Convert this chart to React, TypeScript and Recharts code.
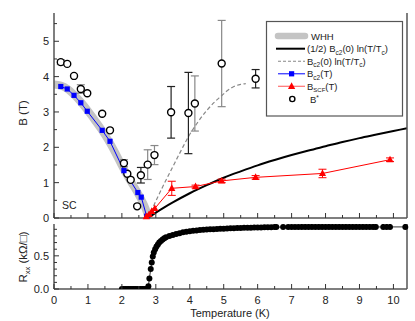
import React from 'react';
import { ComposedChart, Line, Scatter, XAxis, YAxis, ErrorBar } from 'recharts';

const FONT = '"Liberation Sans", Arial, Helvetica, sans-serif';

// ---------- data ----------
const xTicks = [0, 0.5, 1, 1.5, 2, 2.5, 3, 3.5, 4, 4.5, 5, 5.5, 6, 6.5, 7, 7.5, 8, 8.5, 9, 9.5, 10];
const bTicks = [0, 0.5, 1, 1.5, 2, 2.5, 3, 3.5, 4, 4.5, 5, 5.5];
const rTicks = [0, 0.1, 0.2, 0.3, 0.4, 0.5, 0.6, 0.7, 0.8, 0.9];

const whhCurve = [
  { t: 0, b: 3.78 }, { t: 0.2, b: 3.75 }, { t: 0.4, b: 3.65 }, { t: 0.6, b: 3.48 },
  { t: 0.8, b: 3.27 }, { t: 1.0, b: 3.03 }, { t: 1.2, b: 2.77 }, { t: 1.4, b: 2.5 },
  { t: 1.6, b: 2.2 }, { t: 1.8, b: 1.86 }, { t: 2.0, b: 1.48 }, { t: 2.2, b: 1.13 },
  { t: 2.4, b: 0.82 }, { t: 2.6, b: 0.47 }, { t: 2.7, b: 0.26 }, { t: 2.78, b: 0.03 },
];

const halfLnCurve = [
  { t: 2.78, b: 0 }, { t: 3.0, b: 0.15 }, { t: 3.25, b: 0.3 }, { t: 3.5, b: 0.44 },
  { t: 4.0, b: 0.7 }, { t: 4.5, b: 0.93 }, { t: 5.0, b: 1.14 }, { t: 5.5, b: 1.32 },
  { t: 6.0, b: 1.49 }, { t: 6.5, b: 1.64 }, { t: 7.0, b: 1.78 }, { t: 7.5, b: 1.91 },
  { t: 8.0, b: 2.03 }, { t: 8.5, b: 2.15 }, { t: 9.0, b: 2.26 }, { t: 9.5, b: 2.36 },
  { t: 10.0, b: 2.46 }, { t: 10.4, b: 2.54 },
];

const fullLnCurve = [
  { t: 2.78, b: 0 }, { t: 2.93, b: 0.33 }, { t: 3.2, b: 0.88 }, { t: 3.5, b: 1.45 },
  { t: 3.75, b: 1.92 }, { t: 3.96, b: 2.3 }, { t: 4.2, b: 2.66 }, { t: 4.5, b: 3.04 },
  { t: 4.75, b: 3.3 }, { t: 4.94, b: 3.46 }, { t: 5.1, b: 3.6 }, { t: 5.3, b: 3.72 },
  { t: 5.5, b: 3.78 }, { t: 5.65, b: 3.8 },
];

const bc2Points = [
  { t: 0.2, b: 3.72 }, { t: 0.39, b: 3.65 }, { t: 0.59, b: 3.47 }, { t: 0.79, b: 3.26 },
  { t: 0.98, b: 3.02 }, { t: 1.42, b: 2.48 }, { t: 1.65, b: 2.17 }, { t: 2.06, b: 1.34 },
  { t: 2.47, b: 0.72 }, { t: 2.57, b: 0.59 }, { t: 2.73, b: 0.05 },
];

const bscfPoints = [
  { t: 2.72, b: 0.04, e: 0 }, { t: 2.8, b: 0.1, e: 0 }, { t: 2.88, b: 0.19, e: 0 },
  { t: 2.97, b: 0.27, e: 0 }, { t: 3.47, b: 0.84, e: 0.2 }, { t: 4.17, b: 0.89, e: 0.04 },
  { t: 4.94, b: 1.05, e: 0.05 }, { t: 5.94, b: 1.15, e: 0.05 }, { t: 7.91, b: 1.26, e: 0.12 },
  { t: 9.9, b: 1.65, e: 0.05 },
];

// c: colour of the error bar ('g' grey, 'k' black)
const bStarPoints = [
  { t: 0.2, b: 4.41, e: 0.07, c: 'g' }, { t: 0.39, b: 4.36, e: 0, c: 'g' },
  { t: 0.59, b: 4.02, e: 0, c: 'g' }, { t: 0.79, b: 3.65, e: 0.12, c: 'g' },
  { t: 0.98, b: 3.53, e: 0, c: 'g' }, { t: 1.42, b: 2.95, e: 0, c: 'g' },
  { t: 1.65, b: 2.48, e: 0, c: 'g' }, { t: 2.06, b: 1.55, e: 0.1, c: 'g' },
  { t: 2.16, b: 1.25, e: 0, c: 'g' }, { t: 2.26, b: 1.08, e: 0, c: 'g' },
  { t: 2.45, b: 0.33, e: 0, c: 'g' }, { t: 2.56, b: 1.21, e: 0.22, c: 'k' },
  { t: 2.76, b: 1.51, e: 0.42, c: 'g' }, { t: 2.96, b: 1.78, e: 0.27, c: 'g' },
  { t: 3.45, b: 2.99, e: 0.73, c: 'k' }, { t: 3.96, b: 2.97, e: 1.15, c: 'k' },
  { t: 4.15, b: 3.24, e: 0.78, c: 'g' }, { t: 4.94, b: 4.37, e: 1.22, c: 'g' },
  { t: 5.94, b: 3.94, e: 0.26, c: 'k' },
];

const rxxTemps = [
  2.0, 2.05, 2.1, 2.15, 2.2, 2.25, 2.3, 2.35, 2.4, 2.45, 2.5, 2.55, 2.6, 2.65, 2.7, 2.75,
  2.78, 2.81, 2.85, 2.88, 2.91, 2.94, 2.98, 3.02, 3.06, 3.1, 3.15, 3.2, 3.25, 3.3, 3.4,
  3.5, 3.6, 3.7, 3.8, 3.9, 4.0, 4.1, 4.2, 4.3, 4.4, 4.5, 4.6, 4.7, 4.8, 4.9, 5.0, 5.1,
  5.2, 5.3, 5.4, 5.5, 5.6, 5.7, 5.8, 5.9, 6.0, 6.1, 6.2, 6.3, 6.4, 6.5, 6.55, 6.75,
  6.9, 7.0, 7.1, 7.2, 7.3, 7.4, 7.5, 7.6, 7.7, 7.8, 7.9, 8.0, 8.1, 8.2, 8.3, 8.4, 8.5,
  8.6, 8.7, 8.8, 8.9, 9.0, 9.1, 9.2, 9.3, 9.4, 9.48, 9.7, 9.8, 9.9, 10.35,
];
const rxxValues = [
  0, 0, 0, 0, 0, 0, 0, 0, 0, 0, 0, 0, 0, 0, 0, 0,
  0.04, 0.16, 0.3, 0.4, 0.49, 0.55, 0.6, 0.64, 0.67, 0.7, 0.725, 0.745, 0.765, 0.78, 0.8,
  0.815, 0.83, 0.84, 0.855, 0.865, 0.872, 0.878, 0.883, 0.888, 0.892, 0.896, 0.899, 0.902, 0.905, 0.908, 0.91, 0.913,
  0.915, 0.917, 0.919, 0.921, 0.922, 0.924, 0.925, 0.926, 0.928, 0.929, 0.93, 0.931, 0.932, 0.933, 0.933, 0.934,
  0.934, 0.934, 0.934, 0.934, 0.935, 0.935, 0.935, 0.935, 0.935, 0.935, 0.935, 0.935, 0.935, 0.935, 0.935, 0.935, 0.935,
  0.935, 0.935, 0.935, 0.935, 0.935, 0.935, 0.935, 0.935, 0.935, 0.935, 0.936, 0.936, 0.936, 0.936,
];
const rxxData = rxxTemps.map((t, i) => ({ t, r: rxxValues[i] }));

// ---------- helpers ----------
const AXIS = { stroke: '#555', strokeWidth: 1.5 };
const TICK_COLOR = '#333';

type Side = 'bottom' | 'top' | 'left' | 'right';
const makeTick = (side: Side, isMajor: (v: number) => boolean, showLabel: boolean, fmt: (v: number) => string = (v) => String(v)) =>
  (props: any) => {
    const { x, y, payload } = props;
    const v = Number(payload.value);
    const major = isMajor(v);
    const L = major ? 5 : 3;
    let x2 = x;
    let y2 = y;
    if (side === 'bottom') y2 = y - L;
    else if (side === 'top') y2 = y + L;
    else if (side === 'left') x2 = x + L;
    else x2 = x - L;
    let label: any = null;
    if (showLabel && major) {
      if (side === 'bottom') {
        label = <text x={x} y={y + 14.5} textAnchor="middle" fontSize={11} fontFamily={FONT} fill="#222">{fmt(v)}</text>;
      } else if (side === 'left') {
        label = <text x={x - 5} y={y + 4} textAnchor="end" fontSize={11} fontFamily={FONT} fill="#222">{fmt(v)}</text>;
      }
    }
    return (
      <g>
        <line x1={x} y1={y} x2={x2} y2={y2} stroke={TICK_COLOR} strokeWidth={1} />
        {label}
      </g>
    );
  };

const isInt = (v: number) => Math.abs(v - Math.round(v)) < 1e-6;
const isHalf = (v: number) => Math.abs(v * 2 - Math.round(v * 2)) < 1e-6;

const Square = (p: any) => (p.cx == null ? <g key={p.key} /> :
  <rect key={p.key} x={p.cx - 2.6} y={p.cy - 2.6} width={5.2} height={5.2} fill="#0000ff" />);
const Triangle = (p: any) => (p.cx == null ? <g key={p.key} /> :
  <polygon key={p.key} points={`${p.cx},${p.cy - 4} ${p.cx - 3.6},${p.cy + 2.6} ${p.cx + 3.6},${p.cy + 2.6}`} fill="#ff0000" />);
const Dot = (p: any) => (p.cx == null ? <g key={p.key} /> :
  <circle key={p.key} cx={p.cx} cy={p.cy} r={3} fill="#000" />);
const OpenCircle = (p: any) => <circle cx={p.cx} cy={p.cy} r={3.5} fill="#fff" stroke="#000" strokeWidth={1.4} />;
const Nothing = () => <g />;

export default function App() {
  const greyErr = bStarPoints.filter((p) => p.e > 0 && p.c === 'g');
  const blackErr = bStarPoints.filter((p) => p.e > 0 && p.c === 'k');
  const legendY = [36, 48.7, 61.3, 73.8, 86.3, 99];
  const LFS = 9.5;
  const SFS = 6.5;
  return (
    <div style={{ position: 'absolute', left: 0, top: 0, width: 415, height: 321, background: '#fff' }}>
      <div style={{ position: 'absolute', left: 0, top: 0 }}>
        <ComposedChart width={415} height={226} margin={{ top: 13, right: 0, bottom: 0, left: 0 }}>
          <XAxis xAxisId={0} dataKey="t" type="number" domain={[0, 10.4]} ticks={xTicks} interval={0}
            height={8} tickSize={0} tickMargin={0} tickLine={false} axisLine={AXIS}
            tick={makeTick('bottom', isInt, false)} />
          <XAxis xAxisId="top" orientation="top" type="number" domain={[0, 10.4]} ticks={xTicks} interval={0}
            height={0} tickSize={0} tickMargin={0} tickLine={false} axisLine={AXIS}
            tick={makeTick('top', isInt, false)} />
          <YAxis yAxisId={0} type="number" domain={[0, 5.8]} ticks={bTicks} interval={0} width={54}
            tickSize={0} tickMargin={0} tickLine={false} axisLine={AXIS}
            tick={makeTick('left', isInt, true)} />
          <YAxis yAxisId="r" orientation="right" type="number" domain={[0, 5.8]} ticks={bTicks} interval={0} width={8}
            tickSize={0} tickMargin={0} tickLine={false} axisLine={AXIS}
            tick={makeTick('right', isInt, false)} />

          <Line data={whhCurve} dataKey="b" type="monotone" stroke="#c4c4c4" strokeWidth={8}
            dot={false} activeDot={false} isAnimationActive={false} />
          <Line data={fullLnCurve} dataKey="b" type="monotone" stroke="#888" strokeWidth={1.2} strokeDasharray="4 2.5"
            dot={false} activeDot={false} isAnimationActive={false} />
          <Line data={halfLnCurve} dataKey="b" type="monotone" stroke="#000" strokeWidth={2}
            dot={false} activeDot={false} isAnimationActive={false} />
          <Line data={bc2Points} dataKey="b" type="linear" stroke="#0000ff" strokeWidth={1}
            dot={Square} activeDot={false} isAnimationActive={false} />
          <Line data={bscfPoints} dataKey="b" type="linear" stroke="#ff0000" strokeWidth={1}
            dot={Triangle} activeDot={false} isAnimationActive={false}>
            <ErrorBar dataKey="e" direction="y" width={4} stroke="#ff0000" strokeWidth={1} />
          </Line>
          <Scatter data={greyErr} dataKey="b" shape={Nothing} isAnimationActive={false}>
            <ErrorBar dataKey="e" direction="y" width={4} stroke="#888" strokeWidth={1.2} />
          </Scatter>
          <Scatter data={blackErr} dataKey="b" shape={Nothing} isAnimationActive={false}>
            <ErrorBar dataKey="e" direction="y" width={4} stroke="#222" strokeWidth={1.2} />
          </Scatter>
          <Scatter data={bStarPoints} dataKey="b" shape={OpenCircle} isAnimationActive={false} />
        </ComposedChart>
      </div>

      <div style={{ position: 'absolute', left: 0, top: 221 }}>
        <ComposedChart width={415} height={100} data={rxxData} margin={{ top: 3, right: 0, bottom: 0, left: 0 }}>
          <XAxis xAxisId={0} dataKey="t" type="number" domain={[0, 10.4]} ticks={xTicks} interval={0}
            height={32} tickSize={0} tickMargin={0} tickLine={false} axisLine={AXIS}
            tick={makeTick('bottom', isInt, true)} />
          <XAxis xAxisId="top" orientation="top" type="number" domain={[0, 10.4]} ticks={xTicks} interval={0}
            height={0} tickSize={0} tickMargin={0} tickLine={false} axisLine={AXIS}
            tick={makeTick('top', isInt, false)} />
          <YAxis yAxisId={0} type="number" domain={[0, 0.98]} allowDataOverflow ticks={rTicks} interval={0} width={54}
            tickSize={0} tickMargin={0} tickLine={false} axisLine={AXIS}
            tick={makeTick('left', isHalf, true, (v) => v.toFixed(1))} />
          <YAxis yAxisId="r" orientation="right" type="number" domain={[0, 0.98]} ticks={rTicks} interval={0} width={8}
            tickSize={0} tickMargin={0} tickLine={false} axisLine={AXIS}
            tick={makeTick('right', isHalf, false)} />
          <Line dataKey="r" type="linear" stroke="#333" strokeWidth={1}
            dot={Dot} activeDot={false} isAnimationActive={false} />
        </ComposedChart>
      </div>

      <svg width={415} height={321} style={{ position: 'absolute', left: 0, top: 0, pointerEvents: 'none' }}
        fontFamily={FONT}>
        <text transform="translate(27,113) rotate(-90)" textAnchor="middle" fontSize={11.5} fill="#222">B (T)</text>
        <text transform="translate(27,257) rotate(-90)" textAnchor="middle" fontSize={11.5} fill="#222">
          R<tspan dy={2.5} fontSize={7.5}>xx</tspan><tspan dy={-2.5}> (kΩ/□)</tspan>
        </text>
        <text x={230} y={317} textAnchor="middle" fontSize={11} fill="#222">Temperature (K)</text>
        <text x={62} y={208.5} fontSize={10.5} fill="#222">SC</text>

        <rect x={266.5} y={21.5} width={136} height={94.5} fill="#fff" stroke="#555" strokeWidth={1.2} />
        <line x1={278} y1={legendY[0]} x2={305} y2={legendY[0]} stroke="#c4c4c4" strokeWidth={6.5} strokeLinecap="round" />
        <text x={311} y={legendY[0] + 3.5} fontSize={LFS} fill="#222">WHH</text>

        <line x1={276} y1={legendY[1]} x2={305} y2={legendY[1]} stroke="#000" strokeWidth={2} />
        <text x={307} y={legendY[1] + 3.5} fontSize={LFS} fill="#222">
          (1/2) B<tspan dy={2.5} fontSize={SFS}>c2</tspan><tspan dy={-2.5}>(0) ln(T/T</tspan><tspan dy={2.5} fontSize={SFS}>c</tspan><tspan dy={-2.5}>)</tspan>
        </text>

        <line x1={278} y1={legendY[2]} x2={305} y2={legendY[2]} stroke="#888" strokeWidth={1.1} strokeDasharray="3 2" />
        <text x={307} y={legendY[2] + 3.5} fontSize={LFS} fill="#222">
          B<tspan dy={2.5} fontSize={SFS}>c2</tspan><tspan dy={-2.5}>(0) ln(T/T</tspan><tspan dy={2.5} fontSize={SFS}>c</tspan><tspan dy={-2.5}>)</tspan>
        </text>

        <line x1={278} y1={legendY[3]} x2={305} y2={legendY[3]} stroke="#0000ff" strokeWidth={1} />
        <rect x={289} y={legendY[3] - 2.6} width={5.2} height={5.2} fill="#0000ff" />
        <text x={307} y={legendY[3] + 3.5} fontSize={LFS} fill="#222">
          B<tspan dy={2.5} fontSize={SFS}>c2</tspan><tspan dy={-2.5}>(T)</tspan>
        </text>

        <line x1={278} y1={legendY[4]} x2={305} y2={legendY[4]} stroke="#ff7070" strokeWidth={1.2} />
        <polygon points={`291.6,${legendY[4] - 4} 288,${legendY[4] + 2.6} 295.2,${legendY[4] + 2.6}`} fill="#ff0000" />
        <text x={307} y={legendY[4] + 3.5} fontSize={LFS} fill="#222">
          B<tspan dy={2.5} fontSize={6}>SCF</tspan><tspan dy={-2.5}>(T)</tspan>
        </text>

        <circle cx={292.3} cy={legendY[5]} r={2.6} fill="#fff" stroke="#000" strokeWidth={1.4} />
        <text x={310} y={legendY[5] + 3.5} fontSize={LFS} fill="#222">
          B<tspan dy={-3} fontSize={6.5}>*</tspan>
        </text>
      </svg>
    </div>
  );
}
